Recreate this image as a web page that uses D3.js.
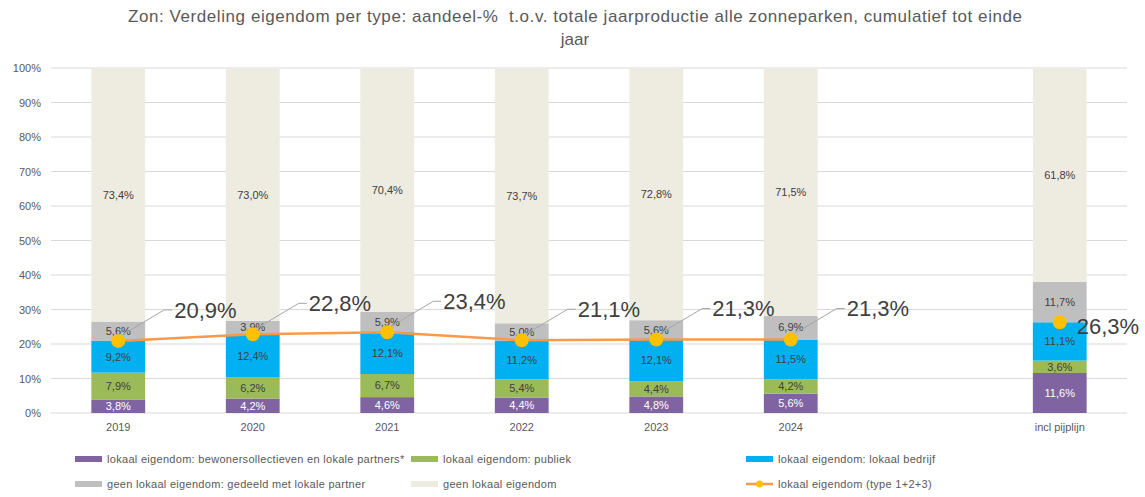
<!DOCTYPE html>
<html>
<head>
<meta charset="utf-8">
<script src="https://cdn.jsdelivr.net/npm/d3@7"></script>
<style>
  body { margin: 0; background: #fff; }
  text { font-family: "Liberation Sans", Arial, sans-serif; }
</style>
</head>
<body>
<div id="chart"></div>
<script>
// categories ("" is the empty slot before the pipeline column)
const categories = ["2019", "2020", "2021", "2022", "2023", "2024", "", "incl pijplijn"];

const seriesNames = [
  "lokaal eigendom: bewonersollectieven en lokale partners*",
  "lokaal eigendom: publiek",
  "lokaal eigendom: lokaal bedrijf",
  "geen lokaal eigendom: gedeeld met lokale partner",
  "geen lokaal eigendom"
];
const lineName = "lokaal eigendom (type 1+2+3)";

// values in %, one per category (null for the empty slot)
const bewoners = [3.8, 4.2, 4.6, 4.4, 4.8, 5.6, null, 11.6];
const publiek  = [7.9, 6.2, 6.7, 5.4, 4.4, 4.2, null, 3.6];
const bedrijf  = [9.2, 12.4, 12.1, 11.2, 12.1, 11.5, null, 11.1];
const gedeeld  = [5.6, 3.9, 5.9, 5.0, 5.6, 6.9, null, 11.7];
const geen     = [73.4, 73.0, 70.4, 73.7, 72.8, 71.5, null, 61.8];
const lokaalTotaal = [20.9, 22.8, 23.4, 21.1, 21.3, 21.3, null, 26.3];

const yTicks = [0, 10, 20, 30, 40, 50, 60, 70, 80, 90, 100];

const colors = ["#8064A2", "#9BBB59", "#00B0F0", "#BFBFBF", "#EEECE1"];
const labelColors = ["#ffffff", "#404040", "#404040", "#404040", "#404040"];
const fmt = v => v.toFixed(1).replace(".", ",") + "%";

const W = 1145, H = 497;
const margin = {top: 68, right: 18, bottom: 84, left: 51};
const width = W - margin.left - margin.right,
      height = H - margin.top - margin.bottom;

const svg = d3.select("#chart").append("svg")
    .attr("width", W).attr("height", H);

// title
svg.append("text")
    .attr("x", 575).attr("y", 22)
    .attr("text-anchor", "middle")
    .attr("textLength", 894).attr("lengthAdjust", "spacing")
    .style("font-size", "17px").style("fill", "#595959")
    .text("Zon: Verdeling eigendom per type: aandeel-%\u00a0\u00a0t.o.v. totale jaarproductie alle zonneparken, cumulatief tot einde");
svg.append("text")
    .attr("x", 575).attr("y", 45)
    .attr("text-anchor", "middle")
    .style("font-size", "17px").style("fill", "#595959")
    .text("jaar");

const g = svg.append("g")
    .attr("transform", "translate(" + margin.left + "," + margin.top + ")");

const x = d3.scaleBand().domain(categories.map((c, i) => i)).range([0, width]).paddingInner(0.6).paddingOuter(0.3);
const y = d3.scaleLinear().domain([0, 100]).range([height, 0]);

// gridlines
g.selectAll(".grid").data(yTicks).enter().append("line")
    .attr("x1", 0).attr("x2", width)
    .attr("y1", d => y(d)).attr("y2", d => y(d))
    .attr("stroke", "#d9d9d9").attr("stroke-width", 1);

// y axis
const yAxis = g.append("g").call(d3.axisLeft(y).tickValues(yTicks).tickFormat(d => d + "%").tickSize(0).tickPadding(10));
yAxis.select(".domain").remove();
yAxis.selectAll("text").style("font-size", "11px").style("fill", "#595959");

// x axis
const xAxis = g.append("g").attr("transform", `translate(0,${height})`)
    .call(d3.axisBottom(x).tickFormat(i => categories[i]).tickSize(0).tickPadding(10));
xAxis.select(".domain").remove();
xAxis.selectAll("text").style("font-size", "11px").style("fill", "#595959");

// stacked data
const rows = categories.map((c, i) => ({i: i, s0: bewoners[i], s1: publiek[i], s2: bedrijf[i], s3: gedeeld[i], s4: geen[i]}))
    .filter(d => d.s0 != null);
const keys = ["s0", "s1", "s2", "s3", "s4"];
const stacked = d3.stack().keys(keys)(rows);

stacked.forEach((layer, k) => {
  const lg = g.append("g");
  lg.selectAll("rect").data(layer).enter().append("rect")
      .attr("x", d => x(d.data.i))
      .attr("width", x.bandwidth())
      .attr("y", d => y(d[1]))
      .attr("height", d => y(d[0]) - y(d[1]))
      .attr("fill", colors[k]);
  lg.selectAll("text").data(layer).enter().append("text")
      .attr("x", d => x(d.data.i) + x.bandwidth() / 2)
      .attr("y", d => y((d[0] + d[1]) / 2))
      .attr("dy", "0.35em")
      .attr("text-anchor", "middle")
      .style("font-size", "11px").style("fill", labelColors[k])
      .text(d => fmt(d.data[keys[k]]));
});

// line for years (no line across the gap)
const pts = categories.map((c, i) => ({i: i, v: lokaalTotaal[i]})).filter(d => d.v != null);
const cx = d => x(d.i) + x.bandwidth() / 2;
const linePts = pts.filter(d => d.i <= 5);
g.append("path").datum(linePts)
    .attr("fill", "none").attr("stroke", "#F79A4A").attr("stroke-width", 2.5)
    .attr("d", d3.line().x(cx).y(d => y(d.v)));

g.selectAll(".dot").data(pts).enter().append("circle")
    .attr("cx", cx).attr("cy", d => y(d.v)).attr("r", 7)
    .attr("fill", "#FFC000");

// big labels with leader lines
pts.forEach(d => {
  const px = cx(d), py = y(d.v);
  if (d.i <= 5) {
    const ly = py - 31;
    g.append("path")
        .attr("d", `M${px + 4},${py - 6}L${px + 46},${ly}L${px + 54},${ly}`)
        .attr("fill", "none").attr("stroke", "#a6a6a6").attr("stroke-width", 1);
    g.append("text").attr("x", px + 56).attr("y", ly).attr("dy", "0.35em")
        .style("font-size", "22px").style("fill", "#404040")
        .text(fmt(d.v));
  } else {
    g.append("text").attr("x", px + 17).attr("y", py + 4).attr("dy", "0.35em")
        .style("font-size", "22px").style("fill", "#404040")
        .text(fmt(d.v));
  }
});

// legend
const legendItems = [
  {name: seriesNames[0], color: colors[0], x: 75, y: 459},
  {name: seriesNames[1], color: colors[1], x: 411, y: 459},
  {name: seriesNames[2], color: colors[2], x: 746, y: 459},
  {name: seriesNames[3], color: colors[3], x: 75, y: 484},
  {name: seriesNames[4], color: colors[4], x: 411, y: 484},
  {name: lineName, color: "line", x: 746, y: 484}
];
const leg = svg.append("g");
legendItems.forEach(d => {
  if (d.color === "line") {
    leg.append("line").attr("x1", d.x).attr("x2", d.x + 27).attr("y1", d.y).attr("y2", d.y)
        .attr("stroke", "#F79A4A").attr("stroke-width", 2.5);
    leg.append("circle").attr("cx", d.x + 13.5).attr("cy", d.y).attr("r", 3.5).attr("fill", "#FFC000");
  } else {
    leg.append("rect").attr("x", d.x).attr("y", d.y - 3).attr("width", 27).attr("height", 6).attr("fill", d.color);
  }
  leg.append("text").attr("x", d.x + 32).attr("y", d.y).attr("dy", "0.35em")
      .style("font-size", "11px").style("letter-spacing", "0.3px").style("fill", "#595959")
      .text(d.name);
});
</script>
</body>
</html>
